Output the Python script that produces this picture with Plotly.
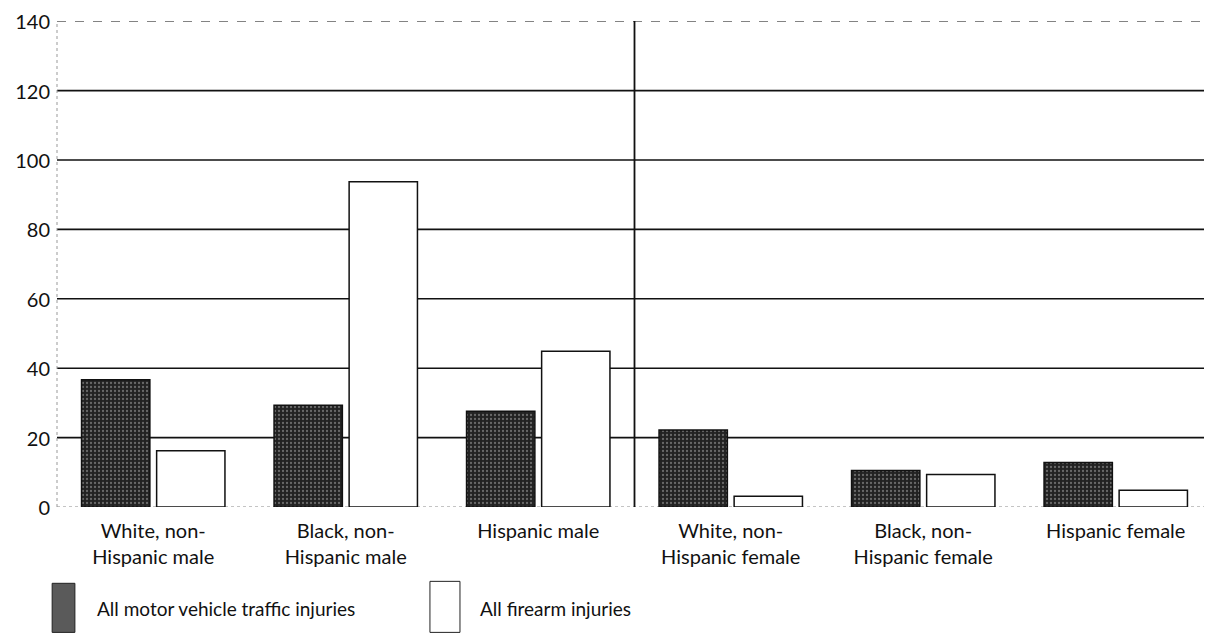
import plotly.graph_objects as go

categories = ["White, non-<br>Hispanic male", "Black, non-<br>Hispanic male", "Hispanic male",
              "White, non-<br>Hispanic female", "Black, non-<br>Hispanic female", "Hispanic female"]
motor_vehicle = [36.7, 29.3, 27.6, 22.2, 10.5, 12.8]
firearm = [16.2, 93.7, 44.9, 3.1, 9.4, 4.8]
series_names = ["All motor vehicle traffic injuries", "All firearm injuries"]
y_ticks = [0, 20, 40, 60, 80, 100, 120, 140]

FONT = "Lato, Open Sans, sans-serif"

fig = go.Figure()
fig.add_trace(go.Bar(
    x=categories, y=motor_vehicle, name=series_names[0],
    marker=dict(color="#2b2b2b", line=dict(color="#111", width=1.5),
                pattern=dict(shape=".", fgcolor="#b0b0b0", bgcolor="#222222", size=4, solidity=0.25)),
    showlegend=False,
))
fig.add_trace(go.Bar(
    x=categories, y=firearm, name=series_names[1],
    marker=dict(color="white", line=dict(color="#111", width=1.5)),
    showlegend=False,
))

shapes = []
for v in y_ticks:
    if v == 0:
        shapes.append(dict(type="line", xref="paper", yref="y", x0=0, x1=1, y0=v, y1=v,
                           line=dict(color="#888", width=1, dash="dot"), layer="below"))
    elif v == y_ticks[-1]:
        shapes.append(dict(type="line", xref="paper", yref="y", x0=0, x1=1, y0=v, y1=v,
                           line=dict(color="#444", width=1, dash="dash"), layer="below"))
    else:
        shapes.append(dict(type="line", xref="paper", yref="y", x0=0, x1=1, y0=v, y1=v,
                           line=dict(color="#111", width=1.6), layer="below"))
# left axis dotted line
shapes.append(dict(type="line", xref="paper", yref="paper", x0=0, x1=0, y0=0, y1=1,
                   line=dict(color="#999", width=1, dash="dot"), layer="below"))
# divider between male and female groups
shapes.append(dict(type="line", xref="x", yref="paper", x0=2.5, x1=2.5, y0=0, y1=1,
                   line=dict(color="#111", width=1.8), layer="below"))

# legend boxes (drawn manually to match tall swatches)
shapes.append(dict(type="rect", xref="paper", yref="paper", x0=-0.0042, x1=0.0155, y0=-0.157, y1=-0.258,
                   fillcolor="#5a5a5a", line=dict(color="#222", width=1)))
shapes.append(dict(type="rect", xref="paper", yref="paper", x0=0.3229, x1=0.3489, y0=-0.153, y1=-0.258,
                   fillcolor="white", line=dict(color="#222", width=1)))

annotations = [
    dict(xref="paper", yref="paper", x=0.0325, y=-0.209, text=series_names[0], showarrow=False,
         xanchor="left", yanchor="middle", font=dict(family=FONT, size=19, color="#111")),
    dict(xref="paper", yref="paper", x=0.3645, y=-0.209, text=series_names[1], showarrow=False,
         xanchor="left", yanchor="middle", font=dict(family=FONT, size=19, color="#111")),
]

fig.update_layout(
    width=1204, height=627,
    margin=dict(l=49, r=0, t=13, b=128, autoexpand=False),
    paper_bgcolor="white", plot_bgcolor="white",
    barmode="group", bargap=0.22, bargroupgap=0.09,
    font=dict(family=FONT, size=20, color="#111"),
    shapes=shapes, annotations=annotations,
    xaxis=dict(showgrid=False, showline=False, ticks="", tickfont=dict(size=20), ticklabelstandoff=10,
               automargin=False),
    yaxis=dict(range=[0, 140.05], tickvals=y_ticks, showgrid=False, zeroline=False, showline=False,
               ticks="", tickfont=dict(size=20), ticklabelstandoff=6, ticklabelshift=1,
               ticklabeloverflow="allow", automargin=False),
)

fig.write_html("out.html")
